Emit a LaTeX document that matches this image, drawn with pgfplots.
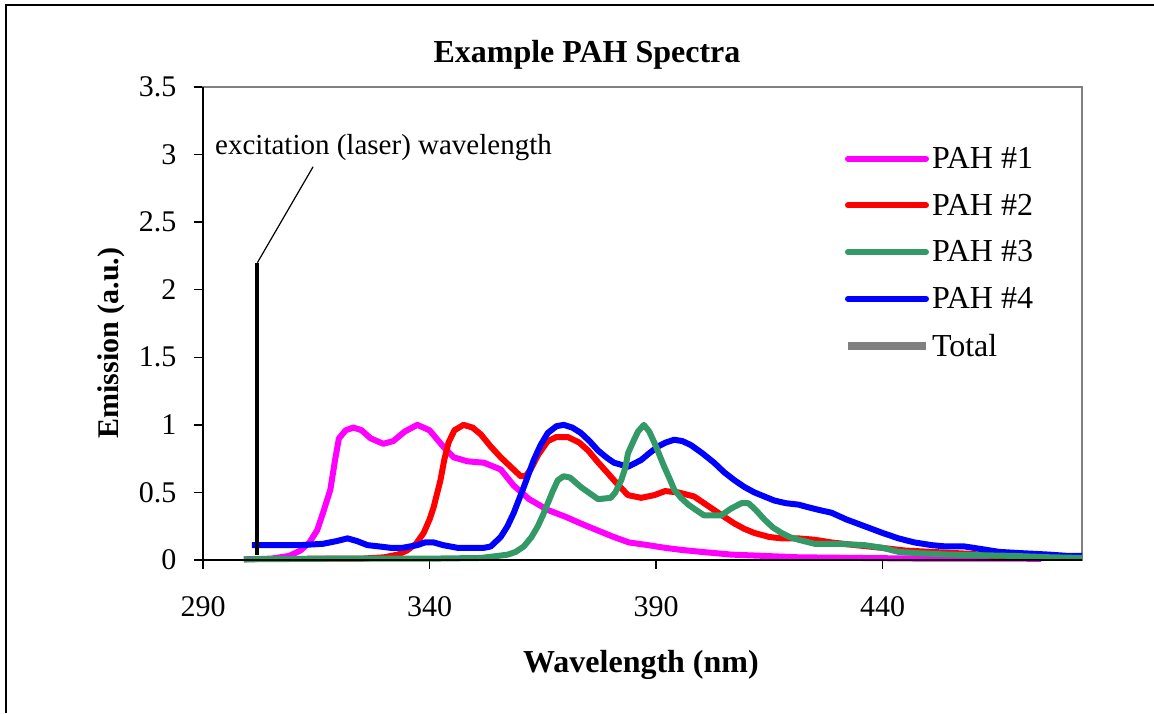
\documentclass[border=0pt]{standalone}
\usepackage{pgfplots}
\pgfplotsset{compat=1.18}
\usepackage{fontspec}
\setmainfont{Liberation Serif}
\definecolor{pahA}{RGB}{255,0,255}
\definecolor{pahB}{RGB}{255,0,0}
\definecolor{pahC}{RGB}{51,153,102}
\definecolor{pahD}{RGB}{0,0,255}
\definecolor{tot}{RGB}{128,128,128}
\newcommand{\bigf}{\fontsize{30}{36}\selectfont}
\begin{document}
\begin{tikzpicture}
\useasboundingbox (0pt,0pt) rectangle (1154pt,713pt);
\draw[line width=2pt] (6pt,0pt) -- (6pt,708pt) -- (1154pt,708pt);
\begin{axis}[
  at={(203pt,153pt)}, anchor=south west,
  scale only axis, width=879pt, height=473pt,
  xmin=290, xmax=484, ymin=0, ymax=3.5,
  xtick={290,340,390,440}, ytick={0,0.5,1,1.5,2,2.5,3,3.5},
  yticklabels={0,0.5,1,1.5,2,2.5,3,3.5},
  axis line style={draw=tot, line width=1.5pt},
  tick style={black, line width=1.5pt},
  major tick length=9pt, tick align=outside,
  xtick pos=bottom, ytick pos=left,
  /pgf/number format/assume math mode=true,
  ticklabel style={font=\bigf},
  xticklabel style={yshift=-24pt},
  yticklabel style={xshift=-14pt},
  clip=false,
  legend style={draw=none, fill=none, at={(0.729,0.877)}, anchor=north west,
    font=\fontsize{32}{38}\selectfont, row sep=20pt, inner sep=0pt,
    nodes={inner sep=2pt}},
  legend cell align=left,
  legend image code/.code={\draw[#1] (0pt,0pt) -- (78pt,0pt);},
]
\addlegendimage{pahA, line width=6pt, line cap=round}
\addlegendentry{PAH \#1}
\addlegendimage{pahB, line width=6pt, line cap=round}
\addlegendentry{PAH \#2}
\addlegendimage{pahC, line width=6pt, line cap=round}
\addlegendentry{PAH \#3}
\addlegendimage{pahD, line width=6pt, line cap=round}
\addlegendentry{PAH \#4}
\addlegendimage{tot, line width=8pt}
\addlegendentry{Total}
% PAH 1
\addplot[pahA, line width=6pt, line join=round, forget plot] coordinates {
(299,0.005)(305,0.01)(309,0.03)(311.5,0.07)(313.5,0.13)(315.2,0.22)(316.5,0.35)(318.1,0.52)(319.2,0.75)(320,0.9)(321.5,0.96)(323.2,0.98)(325,0.96)(327,0.9)(329.8,0.86)(332,0.88)(334.5,0.95)(337.3,1.0)(340,0.96)(343,0.84)(345.3,0.76)(348.4,0.73)(352,0.72)(355.7,0.67)(358.6,0.55)(362,0.45)(366.1,0.37)(370,0.32)(373.4,0.27)(377,0.22)(380.7,0.17)(384,0.13)(388.2,0.11)(392,0.09)(395.5,0.075)(400,0.06)(406.6,0.04)(414,0.03)(421.4,0.02)(435,0.015)(450,0.01)(470,0.01)(475,0.008)};
% PAH 2
\addplot[pahB, line width=6pt, line join=round, forget plot] coordinates {
(313,0.01)(325,0.01)(330,0.02)(333,0.04)(335,0.07)(337,0.12)(338.7,0.2)(340,0.3)(340.9,0.39)(342.4,0.59)(343.3,0.75)(344.2,0.87)(345.5,0.96)(347.5,1.0)(349.5,0.98)(351.3,0.93)(353.5,0.84)(355.7,0.76)(357.9,0.69)(360.1,0.62)(361.2,0.62)(362.3,0.67)(364,0.78)(366.1,0.88)(368,0.91)(370.5,0.91)(373,0.87)(375,0.81)(377,0.73)(379.4,0.64)(381.5,0.56)(383.8,0.48)(386.7,0.46)(389.6,0.48)(392,0.51)(394.9,0.5)(398.4,0.47)(400.6,0.42)(402.8,0.37)(405,0.32)(407.3,0.27)(409.5,0.23)(411.7,0.2)(415,0.17)(417.7,0.16)(421.4,0.16)(425,0.15)(428.7,0.13)(434,0.11)(439.8,0.09)(445,0.07)(450.8,0.06)(459.7,0.045)(465,0.03)(475,0.02)};
% PAH 4
\addplot[pahD, line width=6pt, line join=round, forget plot] coordinates {
(300.8,0.11)(306,0.11)(311.5,0.11)(316.5,0.12)(319.5,0.14)(321.9,0.16)(324,0.14)(326.3,0.11)(329,0.1)(331.4,0.09)(334,0.09)(337.3,0.11)(339,0.13)(340.9,0.13)(343,0.11)(346.2,0.09)(349,0.09)(352,0.09)(353.5,0.1)(355.7,0.17)(357.2,0.25)(358.6,0.35)(360.8,0.54)(363,0.74)(364.5,0.85)(366.1,0.94)(368,0.99)(369.6,1.0)(371.5,0.98)(373.4,0.94)(375.3,0.88)(377.2,0.81)(379,0.76)(380.7,0.72)(383.8,0.69)(386.7,0.74)(388.5,0.79)(390.4,0.84)(392.2,0.87)(394,0.89)(395.8,0.88)(397.7,0.85)(400.2,0.79)(402.8,0.72)(405,0.65)(407.3,0.59)(409.5,0.54)(411.7,0.5)(413.9,0.47)(416.1,0.44)(418.7,0.42)(421.4,0.41)(423.6,0.39)(426,0.37)(428.7,0.35)(432,0.3)(436,0.25)(440,0.2)(443.5,0.16)(447,0.13)(450.8,0.11)(454,0.1)(458.1,0.1)(462,0.08)(465.7,0.06)(471,0.05)(476.7,0.04)(481,0.03)(484,0.03)};
% PAH 3
\addplot[pahC, line width=6pt, line join=round, forget plot] coordinates {
(299,0.005)(320,0.01)(340,0.01)(351.3,0.015)(355,0.03)(357.3,0.04)(359,0.06)(360.8,0.1)(362.5,0.17)(363.9,0.25)(365,0.33)(366.1,0.42)(367.2,0.51)(368.3,0.59)(369.6,0.62)(371,0.61)(373.4,0.54)(375.5,0.49)(377.2,0.45)(380,0.46)(381,0.5)(382.3,0.59)(383.2,0.68)(383.8,0.79)(385,0.88)(386,0.95)(387.3,1.0)(388.5,0.95)(389.6,0.87)(390.7,0.78)(391.8,0.69)(393,0.6)(394,0.52)(395.5,0.46)(397.1,0.41)(398.8,0.37)(400.6,0.33)(402.5,0.33)(404.4,0.33)(406.5,0.38)(408.8,0.42)(410.4,0.42)(412,0.37)(413.9,0.3)(415.8,0.24)(417.7,0.2)(419.5,0.17)(421.4,0.15)(425,0.12)(430,0.12)(436,0.11)(440,0.09)(443.5,0.06)(448,0.05)(454.6,0.04)(462,0.035)(469.2,0.03)(477,0.02)(484,0.015)};
% excitation line
\addplot[black, line width=4pt, forget plot] coordinates {(302,0.04)(302,2.2)};
\draw[black, line width=1.2pt] (axis cs:302,2.2) -- (axis cs:314.3,2.91);
\draw[black, line width=1.5pt] (rel axis cs:0,1) -- (rel axis cs:0,0) -- (rel axis cs:1,0);
\end{axis}
\node[font=\bfseries\fontsize{32}{38}\selectfont, anchor=base] at (587pt,650pt) {Example PAH Spectra};
\node[font=\bfseries\fontsize{32}{38}\selectfont, anchor=base] at (641pt,41pt) {Wavelength (nm)};
\node[font=\bfseries\bigf, anchor=base, rotate=90] at (118pt,370pt) {Emission (a.u.)};
\node[font=\fontsize{29}{34}\selectfont, anchor=base] at (383.5pt,558pt) {excitation (laser) wavelength};
\end{tikzpicture}
\end{document}
